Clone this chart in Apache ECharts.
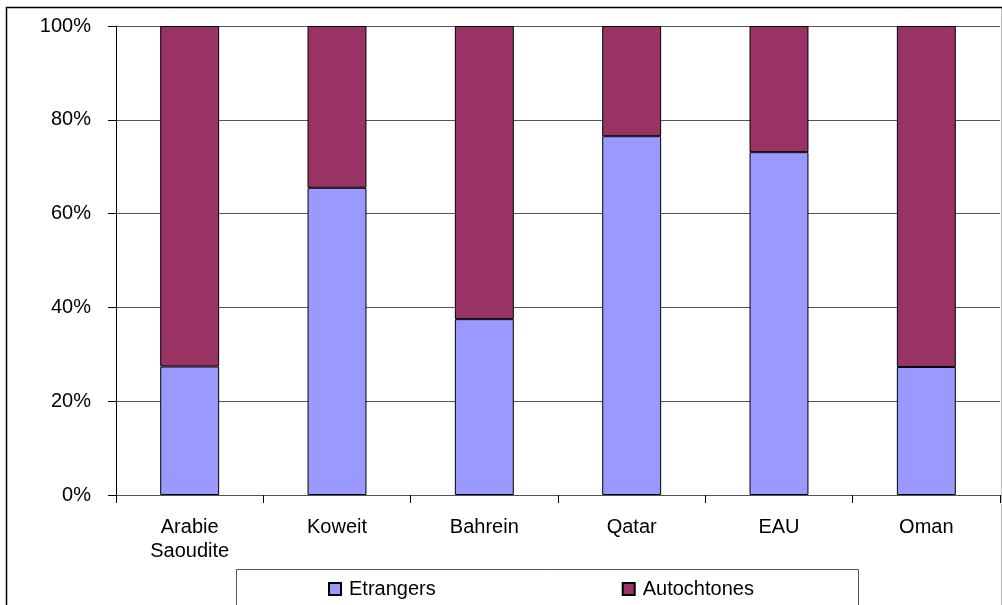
<!DOCTYPE html>
<html>
<head>
<meta charset="utf-8">
<script src="https://cdn.jsdelivr.net/npm/echarts@6/dist/echarts.min.js"></script>
<style>
  html, body { margin: 0; padding: 0; background: #fff; }
  #chart { width: 1002px; height: 605px; }
</style>
</head>
<body>
<div id="chart"></div>
<script>
// Gulf states: share of foreign vs native population (percent)
const categories = ['Arabie\nSaoudite', 'Koweit', 'Bahrein', 'Qatar', 'EAU', 'Oman'];
const etrangers = [27.4, 65.5, 37.5, 76.5, 73.1, 27.3];
const autochtones = etrangers.map(v => +(100 - v).toFixed(1));
const yTicks = [0, 20, 40, 60, 80, 100];

const font = '"Liberation Sans", Arial, sans-serif';
const chart = echarts.init(document.getElementById('chart'), null, { renderer: 'canvas' });

chart.setOption({
  animation: false,
  backgroundColor: '#fff',
  textStyle: { fontFamily: font },
  grid: { left: 116, right: 2, top: 26, bottom: 110, containLabel: false },
  graphic: [
    // outer frame of the chart
    { type: 'rect', left: 4, top: 5, z: -1,
      shape: { width: 996, height: 610 },
      style: { fill: 'none', stroke: '#000', lineWidth: 1.5 } },
    // legend frame
    { type: 'rect', left: 236, top: 569, z: -1,
      shape: { width: 622, height: 50 },
      style: { fill: '#fff', stroke: '#555', lineWidth: 1 } }
  ],
  legend: {
    data: ['Etrangers', 'Autochtones'],
    left: 323, top: 574,
    itemGap: 186,
    itemWidth: 12, itemHeight: 12,
    icon: 'rect',
    textStyle: { fontSize: 20, color: '#000', fontFamily: font, padding: [0, 0, 0, 3] }
  },
  xAxis: {
    type: 'category',
    data: categories,
    axisLine: { lineStyle: { color: '#555', width: 1 } },
    axisTick: { show: true, length: 8, lineStyle: { color: '#000' } },
    axisLabel: { fontSize: 20, color: '#000', margin: 20, lineHeight: 24, fontFamily: font }
  },
  yAxis: {
    type: 'value',
    min: 0, max: 100, interval: 20,
    axisLine: { show: true, lineStyle: { color: '#000', width: 1 } },
    axisTick: { show: true, length: 8, lineStyle: { color: '#000' } },
    axisLabel: {
      fontSize: 20, color: '#000', margin: 25, fontFamily: font,
      formatter: v => (yTicks.includes(v) ? v + '%' : '')
    },
    splitLine: { show: true, lineStyle: { color: '#555', width: 1 } }
  },
  series: [
    {
      name: 'Etrangers', type: 'bar', stack: 'pop', barWidth: '40%',
      data: etrangers,
      itemStyle: { color: '#9999FF', borderColor: '#000', borderWidth: 1 }
    },
    {
      name: 'Autochtones', type: 'bar', stack: 'pop', barWidth: '40%',
      data: autochtones,
      itemStyle: { color: '#993366', borderColor: '#000', borderWidth: 1 }
    }
  ]
});
</script>
</body>
</html>
